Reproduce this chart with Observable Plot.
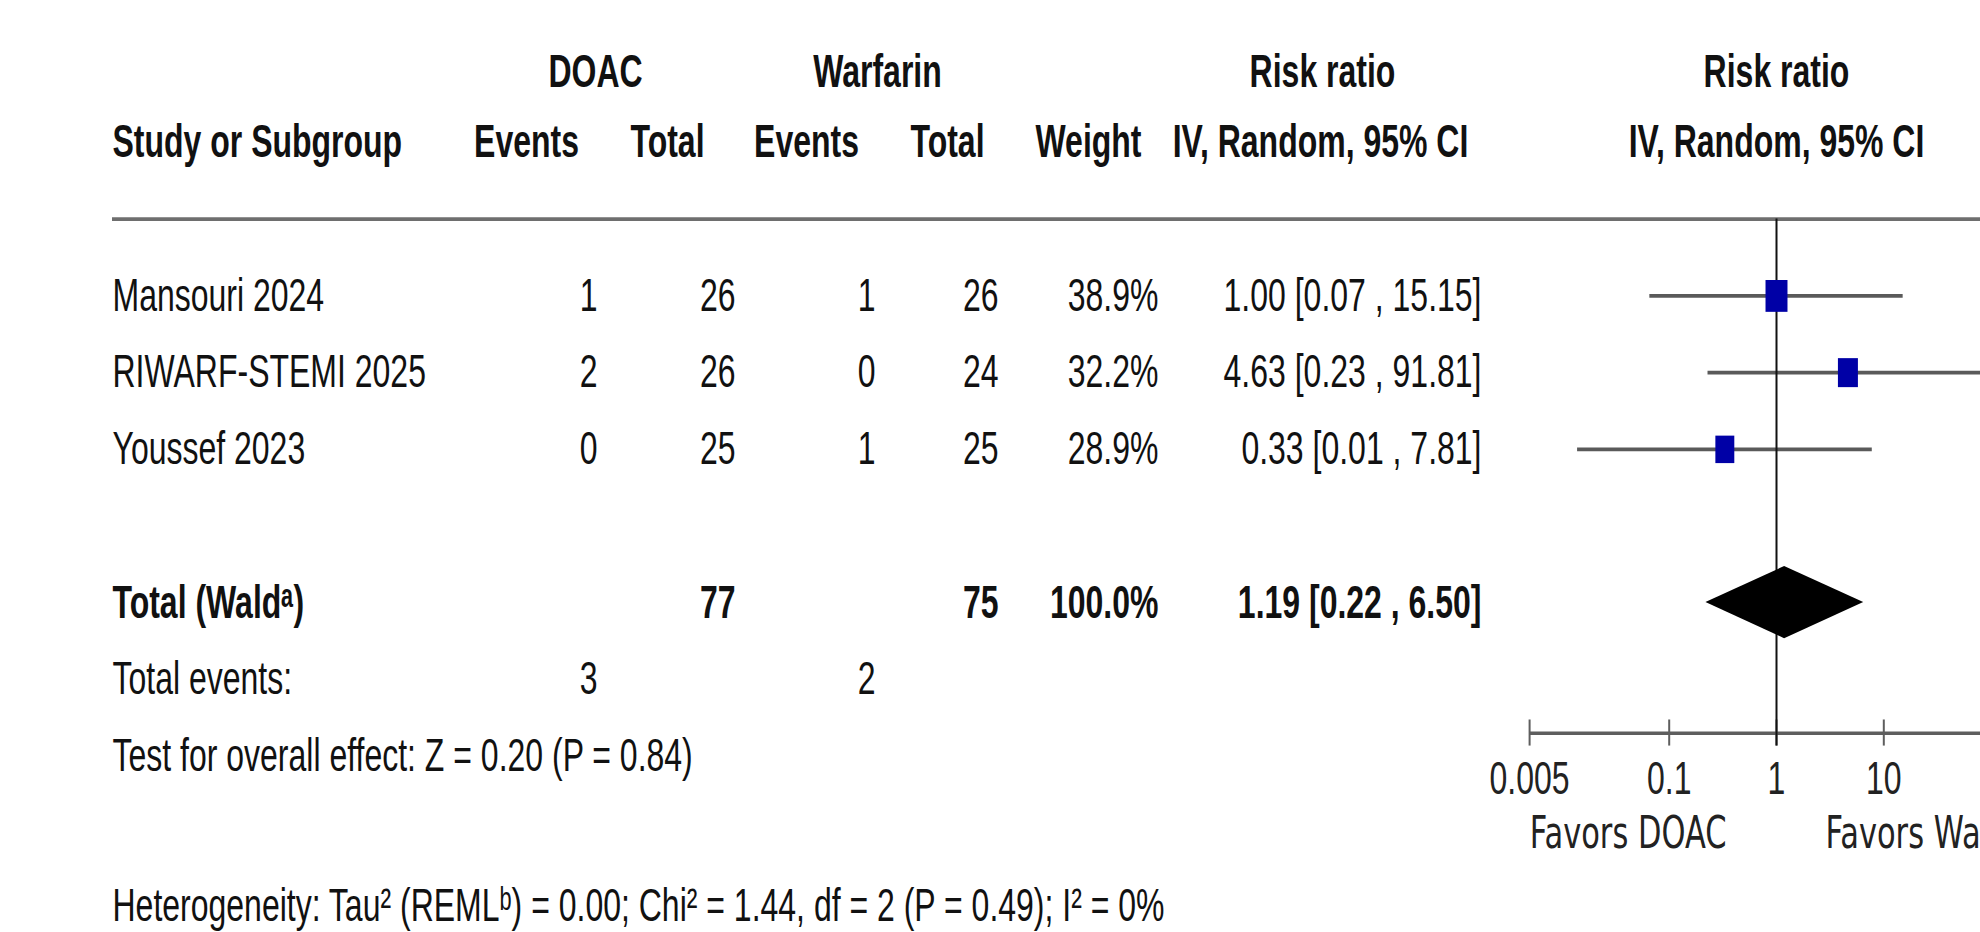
<!DOCTYPE html>
<html>
<head>
<meta charset="utf-8">
<script src="https://cdn.jsdelivr.net/npm/d3@7"></script>
<script src="https://cdn.jsdelivr.net/npm/@observablehq/plot@0.6"></script>
<style>
  html, body { margin: 0; padding: 0; overflow: hidden; background: #ffffff; }
  #wrap { position: relative; width: 1980px; height: 932px; overflow: hidden; background: #ffffff; }
</style>
</head>
<body>
<div id="wrap"></div>
<script>
// ---------------- data ----------------
const studies    = ["Mansouri 2024", "RIWARF-STEMI 2025", "Youssef 2023"];
const doacEvents = [1, 2, 0];
const doacTotal  = [26, 26, 25];
const warfEvents = [1, 0, 1];
const warfTotal  = [26, 24, 25];
const weights    = [38.9, 32.2, 28.9];
const rr         = [1.00, 4.63, 0.33];
const ciLow      = [0.066, 0.23, 0.014];
const ciHigh     = [15.15, 91.81, 7.81];
const pooled     = [1.19, 0.22, 6.50];           // estimate, lower, upper
const axisDomain = [0.005, 200];
const axisTicks  = [0.005, 0.1, 1, 10];
const tickLabels = ["0.005", "0.1", "1", "10"];
const head1Labels = ["DOAC", "Warfarin", "Risk ratio"];
const head2Labels = ["Events", "Total", "Events", "Total", "Weight", "IV, Random, 95% CI"];
const favorLabels = ["Favors DOAC", "Favors Warfarin"];
const testText = "Test for overall effect: Z = 0.20 (P = 0.84)";
const hetText  = "Heterogeneity: Tau\u00B2 (REML\u1D47) = 0.00; Chi\u00B2 = 1.44, df = 2 (P = 0.49); I\u00B2 = 0%";

// ---------------- layout ----------------
const W = 1980, H = 932, S = 1.45, H0 = H / S;     // vertical stretch of the picture
const FONT = "'Liberation Sans', Arial, Helvetica, sans-serif";
const FS = 32;
const INK = "#111111";
const col = { study: 112, dEv: 597, dTot: 735, wEv: 875, wTot: 998, weight: 1158, rr: 1481 };
const head1X = [595, 877, 1322];
const head2X = [526, 667, 806, 947, 1088, 1320];
const row = { h1: 0.08, h2: 1, rule: 2, study0: 3, total: 7, events: 8, test: 9, het: 10.95,
              axis: 8.70, tickTop: 8.53, tickBot: 8.87, tickLab: 9.30, favor: 10.01 };
const yScale = { domain: [0, 11], range: [65 / S, 909 / S], axis: null };
const fmt2 = d3.format(".2f");
const rrText = (e, l, u) => `${fmt2(e)} [${fmt2(l)} , ${fmt2(u)}]`;

const idx = studies.map((_, i) => i);
const txt = (data, o) => Plot.text(data, { fontFamily: FONT, fontSize: FS, fill: INK, ...o });

// ---------------- table ----------------
const table = Plot.plot({
  width: W, height: H0, margin: 0,
  style: { background: "transparent", fontFamily: FONT },
  x: { type: "linear", domain: [0, W], range: [0, W], axis: null },
  y: yScale,
  marks: [
    txt(head1Labels, { x: (d, i) => head1X[i], y: row.h1, text: d => d, fontWeight: "bold" }),
    txt(["Study or Subgroup"], { x: col.study, y: row.h2, text: d => d, textAnchor: "start", fontWeight: "bold" }),
    txt(head2Labels, { x: (d, i) => head2X[i], y: row.h2, text: d => d, fontWeight: "bold" }),
    Plot.ruleY([row.rule], { x1: col.study, x2: W, stroke: "#6e6e6e", strokeWidth: 2.6 }),
    txt(idx, { x: col.study, y: i => row.study0 + i, text: i => studies[i], textAnchor: "start" }),
    txt(idx, { x: col.dEv, y: i => row.study0 + i, text: i => String(doacEvents[i]), textAnchor: "end" }),
    txt(idx, { x: col.dTot, y: i => row.study0 + i, text: i => String(doacTotal[i]), textAnchor: "end" }),
    txt(idx, { x: col.wEv, y: i => row.study0 + i, text: i => String(warfEvents[i]), textAnchor: "end" }),
    txt(idx, { x: col.wTot, y: i => row.study0 + i, text: i => String(warfTotal[i]), textAnchor: "end" }),
    txt(idx, { x: col.weight, y: i => row.study0 + i, text: i => weights[i].toFixed(1) + "%", textAnchor: "end" }),
    txt(idx, { x: col.rr, y: i => row.study0 + i, text: i => rrText(rr[i], ciLow[i], ciHigh[i]), textAnchor: "end" }),
    // total row
    txt(["Total (Wald\u1D43)"], { x: col.study, y: row.total, text: d => d, textAnchor: "start", fontWeight: "bold" }),
    txt([d3.sum(doacTotal)], { x: col.dTot, y: row.total, text: d => String(d), textAnchor: "end", fontWeight: "bold" }),
    txt([d3.sum(warfTotal)], { x: col.wTot, y: row.total, text: d => String(d), textAnchor: "end", fontWeight: "bold" }),
    txt([d3.sum(weights)], { x: col.weight, y: row.total, text: d => d.toFixed(1) + "%", textAnchor: "end", fontWeight: "bold" }),
    txt([pooled], { x: col.rr, y: row.total, text: d => rrText(d[0], d[1], d[2]), textAnchor: "end", fontWeight: "bold" }),
    // events row
    txt(["Total events:"], { x: col.study, y: row.events, text: d => d, textAnchor: "start" }),
    txt([d3.sum(doacEvents)], { x: col.dEv, y: row.events, text: d => String(d), textAnchor: "end" }),
    txt([d3.sum(warfEvents)], { x: col.wEv, y: row.events, text: d => String(d), textAnchor: "end" }),
    txt([testText], { x: col.study, y: row.test, text: d => d, textAnchor: "start" }),
    txt([hetText], { x: col.study, y: row.het, text: d => d, textAnchor: "start" })
  ]
});

// ---------------- forest ----------------
const center = 1776, decade = 107.3;
const lg = Math.log10;
const diamond = [
  { y: row.total - 0.47, x1: pooled[0], x2: pooled[0] },
  { y: row.total,        x1: pooled[1], x2: pooled[2] },
  { y: row.total + 0.47, x1: pooled[0], x2: pooled[0] }
];
const forest = Plot.plot({
  width: W, height: H0, margin: 0,
  style: { background: "transparent", fontFamily: FONT },
  x: { type: "log", domain: axisDomain,
       range: [center + decade * lg(axisDomain[0]), center + decade * lg(axisDomain[1])], axis: null },
  y: yScale,
  r: { type: "sqrt", domain: [0, d3.max(weights)], range: [0, 12.4] },
  marks: [
    txt(["Risk ratio"], { x: 1, y: row.h1, text: d => d, fontWeight: "bold" }),
    txt(["IV, Random, 95% CI"], { x: 1, y: row.h2, text: d => d, fontWeight: "bold" }),
    Plot.ruleY([row.axis], { x1: axisDomain[0], x2: axisDomain[1], stroke: "#5e5e5e", strokeWidth: 2.4 }),
    Plot.ruleX(axisTicks.concat([axisDomain[1]]), { x: d => d, y1: row.tickTop, y2: row.tickBot, stroke: "#5e5e5e", strokeWidth: 2 }),
    txt(axisTicks, { x: d => d, y: row.tickLab, text: (d, i) => tickLabels[i], fill: "#222" }),
    txt([favorLabels[0]], { x: 1, dx: -50, y: row.favor, text: d => d, textAnchor: "end",
      fontFamily: "'DejaVu Sans', sans-serif", fontSize: 30.5, fill: "#222" }),
    txt([favorLabels[1]], { x: 1, dx: 49, y: row.favor, text: d => d, textAnchor: "start",
      fontFamily: "'DejaVu Sans', sans-serif", fontSize: 30.5, fill: "#222" }),
    Plot.ruleY(idx, { y: i => row.study0 + i, x1: i => ciLow[i], x2: i => ciHigh[i], stroke: "#5a5a5a", strokeWidth: 2.5 }),
    Plot.ruleX([1], { y1: row.rule, y2: row.tickBot, stroke: "#111", strokeWidth: 2 }),
    Plot.dot(idx, { x: i => rr[i], y: i => row.study0 + i, r: i => weights[i], symbol: "square", fill: "#0000a6", stroke: null }),
    Plot.areaX(diamond, { y: "y", x1: "x1", x2: "x2", fill: "#000", curve: "linear" })
  ]
});

function place(svg) {
  svg.setAttribute("viewBox", `0 0 ${W} ${H0}`);
  svg.setAttribute("width", W);
  svg.setAttribute("height", H);
  svg.setAttribute("preserveAspectRatio", "none");
  svg.style.position = "absolute";
  svg.style.left = "0px";
  svg.style.top = "0px";
  svg.style.width = W + "px";
  svg.style.height = H + "px";
  svg.style.maxWidth = "none";
  svg.style.overflow = "hidden";
  svg.style.background = "transparent";
  return svg;
}
const wrap = document.getElementById("wrap");
wrap.appendChild(place(table));
wrap.appendChild(place(forest));
</script>
</body>
</html>
